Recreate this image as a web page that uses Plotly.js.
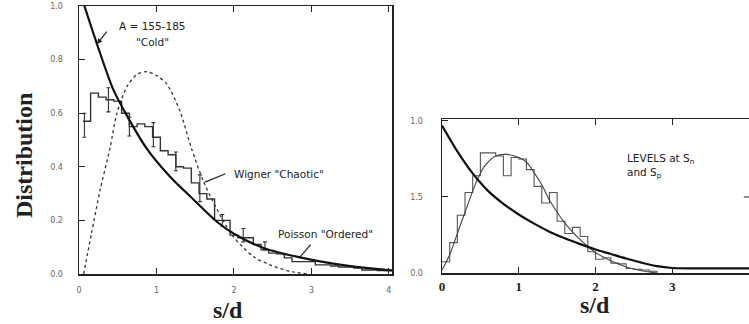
<!DOCTYPE html>
<html>
<head>
<meta charset="utf-8">
<script src="https://cdn.plot.ly/plotly-3.0.1.min.js"></script>
<style>html,body{margin:0;padding:0;background:#fff;}#chart{width:749px;height:324px;}</style>
</head>
<body>
<div id="chart"></div>
<script>
// ---------- Left panel (A = 155-185 "Cold") ----------
const leftBinStart = [0.05,0.15,0.25,0.35,0.45,0.55,0.65,0.75,0.85,0.95,1.05,1.15,1.25,1.35,1.45,1.55,1.65,1.75,1.85,1.95,2.05,2.15,2.25,2.35,2.45,2.55,2.65,2.75,2.85,2.95,3.05,3.15,3.25,3.35,3.45,3.55,3.65,3.75,3.85,3.95];
const leftBinValue = [0.57,0.675,0.66,0.65,0.645,0.60,0.55,0.56,0.55,0.51,0.46,0.445,0.40,0.395,0.34,0.30,0.28,0.20,0.20,0.145,0.135,0.135,0.11,0.09,0.078,0.075,0.06,0.046,0.046,0.046,0.034,0.034,0.03,0.026,0.026,0.022,0.015,0.015,0.013,0.012];
const leftBinEnd = 4.04;
const leftErrS = [0.07,0.38,0.65,0.96,1.25,1.56,1.85,2.12,2.40];
const leftErrV = [0.555,0.65,0.55,0.52,0.42,0.32,0.20,0.145,0.105];
const leftErrD = [0.045,0.045,0.035,0.045,0.035,0.05,0.022,0.025,0.015];
const leftPoissonS = [0.07,0.23,0.44,0.62,0.87,1.17,1.47,1.78,2.0,2.4,2.85,3.3,3.9,4.04];
const leftPoissonV = [1.0,0.86,0.69,0.59,0.47,0.365,0.28,0.195,0.15,0.095,0.062,0.038,0.017,0.014];
const leftWignerS = [0.06,0.16,0.27,0.40,0.49,0.62,0.75,0.88,1.0,1.13,1.30,1.45,1.6,1.73,1.86,1.99,2.25,2.5,2.76,2.98];
const leftWignerV = [0.0,0.15,0.31,0.47,0.60,0.70,0.745,0.755,0.74,0.71,0.61,0.47,0.35,0.27,0.20,0.14,0.065,0.03,0.008,0.0];
const leftXTicks = [0,1,2,3,4];
const leftXTickText = ['0','1','2','3','4'];
const leftYTicks = [0,0.2,0.4,0.6,0.8,1.0];
const leftYTickText = ['0.0','0.2','0.4','0.6','0.8','1.0'];

// ---------- Right panel (LEVELS at Sn and Sp) ----------
const rightBinStart = [0.0,0.1,0.2,0.3,0.4,0.5,0.6,0.7,0.8,0.9,1.0,1.1,1.2,1.3,1.4,1.5,1.6,1.7,1.8,1.9,2.0,2.1,2.2,2.3,2.4,2.5,2.6,2.7];
const rightBinValue = [0.074,0.20,0.38,0.53,0.64,0.79,0.79,0.77,0.64,0.76,0.75,0.68,0.57,0.46,0.53,0.34,0.26,0.30,0.24,0.14,0.09,0.10,0.065,0.06,0.03,0.025,0.02,0.012];
const rightBinEnd = 2.8;
const rightPoissonS = [0.0,0.2,0.4,0.6,0.8,1.0,1.2,1.4,1.6,1.8,2.0,2.2,2.4,2.6,2.8,3.0,3.5,4.0];
const rightPoissonV = [0.97,0.80,0.655,0.54,0.455,0.385,0.325,0.272,0.228,0.19,0.155,0.125,0.095,0.068,0.045,0.033,0.03,0.03];
const rightWignerS = [0.0,0.1,0.2,0.3,0.44,0.55,0.7,0.85,1.0,1.1,1.2,1.3,1.4,1.5,1.6,1.7,1.8,2.0,2.2,2.4,2.6,2.8];
const rightWignerV = [0.02,0.12,0.26,0.40,0.59,0.70,0.77,0.78,0.76,0.73,0.66,0.58,0.48,0.40,0.33,0.27,0.22,0.135,0.08,0.04,0.015,0.0];
const rightXTicks = [0,1,2,3,4];
const rightXTickText = ['0','1','2','3','4'];
const rightYTicks = [0,0.5,1.0];
const rightYTickText = ['0.0','1.5','1.0'];

// ---------- Labels ----------
const yTitle = 'Distribution';
const xTitle = 's/d';
const coldLine1 = 'A = 155-185';
const coldLine2 = '"Cold"';
const wignerLabel = 'Wigner "Chaotic"';
const poissonLabel = 'Poisson "Ordered"';
const levelsLine1 = 'LEVELS at S<sub>n</sub>';
const levelsLine2 = 'and S<sub>p</sub>';

function steps(starts, vals, end, dropToZero) {
  const x = starts.slice(); const y = vals.slice();
  x.push(end); y.push(vals[vals.length - 1]);
  if (dropToZero) { x.push(end); y.push(0); }
  return {x, y};
}
const hl = steps(leftBinStart, leftBinValue, leftBinEnd, false);
const hr = steps(rightBinStart, rightBinValue, rightBinEnd, true);

const ink = '#222';
const traces = [
  {x: hl.x, y: hl.y, xaxis:'x', yaxis:'y', mode:'lines', line:{shape:'hv', color:'#333', width:1.4}, hoverinfo:'skip'},
  {x: leftErrS, y: leftErrV, xaxis:'x', yaxis:'y', mode:'markers', marker:{size:1, color:'rgba(0,0,0,0)'},
   error_y:{type:'data', array:leftErrD, visible:true, color:'#333', thickness:1.1, width:2}, hoverinfo:'skip'},
  {x: leftWignerS, y: leftWignerV, xaxis:'x', yaxis:'y', mode:'lines', line:{shape:'spline', smoothing:0.8, color:'#333', width:1.3, dash:'dot'}, hoverinfo:'skip'},
  {x: leftPoissonS, y: leftPoissonV, xaxis:'x', yaxis:'y', mode:'lines', line:{shape:'spline', smoothing:0.8, color:'#111', width:2.2}, hoverinfo:'skip'},
  {x: hr.x, y: hr.y, xaxis:'x2', yaxis:'y2', mode:'lines', line:{shape:'hv', color:'#555', width:1.1}, hoverinfo:'skip'},
  {x: rightWignerS, y: rightWignerV, xaxis:'x2', yaxis:'y2', mode:'lines', line:{shape:'spline', smoothing:0.8, color:'#444', width:1.1}, hoverinfo:'skip'},
  {x: rightPoissonS, y: rightPoissonV, xaxis:'x2', yaxis:'y2', mode:'lines', line:{shape:'spline', smoothing:0.8, color:'#111', width:2.2}, hoverinfo:'skip'}
];

const tickFont = {family:'DejaVu Sans', size:8, color:'#666'};
const axCommon = {showgrid:false, zeroline:false, showline:true, linecolor:ink, linewidth:1.5,
  ticks:'inside', ticklen:6, tickwidth:1, tickcolor:ink, tickmode:'array', fixedrange:true};

const txtFont = {family:'DejaVu Sans', size:10.5, color:ink};
const serifTitle = {family:'Liberation Serif', size:24, color:ink, weight:'bold'};

const layout = {
  width:749, height:324, margin:{l:0,r:0,t:0,b:0}, showlegend:false,
  paper_bgcolor:'#fff', plot_bgcolor:'rgba(0,0,0,0)',
  xaxis: Object.assign({}, axCommon, {domain:[79/749, 392/749], range:[0,4.04], anchor:'y',
    tickvals:leftXTicks, ticktext:leftXTickText, mirror:'ticks', tickfont:tickFont, ticklabelstandoff:8}),
  yaxis: Object.assign({}, axCommon, {domain:[50/324, 318/324], range:[0,1.0], anchor:'x',
    tickvals:leftYTicks, ticktext:leftYTickText, mirror:true, tickfont:tickFont, ticklabelstandoff:13}),
  xaxis2: Object.assign({}, axCommon, {domain:[442/749, 1], range:[0,4.0], anchor:'y2',
    tickvals:rightXTicks, ticktext:rightXTickText, mirror:'ticks',
    tickfont:{family:'Liberation Serif', size:13, color:ink, weight:'bold'}, ticklabelstandoff:1}),
  yaxis2: Object.assign({}, axCommon, {domain:[51/324, 205/324], range:[0,1.013], anchor:'x2',
    tickvals:rightYTicks, ticktext:rightYTickText, tickfont:tickFont, ticklabelstandoff:16}),
  shapes: [
    {type:'line', xref:'paper', yref:'y2', x0:0.993, x1:1.0, y0:0.5, y1:0.5, line:{color:ink, width:1}}
  ],
  annotations: [
    {xref:'paper', yref:'paper', x:24/749, y:1-156/324, xanchor:'center', yanchor:'middle', text:yTitle, textangle:-90, showarrow:false, font:serifTitle},
    {xref:'paper', yref:'paper', x:228/749, y:1-310/324, xanchor:'center', yanchor:'middle', text:xTitle, showarrow:false, font:serifTitle},
    {xref:'paper', yref:'paper', x:595/749, y:1-305/324, xanchor:'center', yanchor:'middle', text:xTitle, showarrow:false, font:serifTitle},
    {xref:'x', yref:'y', x:0.955, y:0.925, xanchor:'center', yanchor:'middle', text:coldLine1, showarrow:false, font:txtFont},
    {xref:'x', yref:'y', x:0.955, y:0.865, xanchor:'center', yanchor:'middle', text:coldLine2, showarrow:false, font:txtFont},
    {xref:'x', yref:'y', x:2.58, y:0.375, xanchor:'center', yanchor:'middle', text:wignerLabel, showarrow:false, font:txtFont},
    {xref:'x', yref:'y', x:3.18, y:0.15, xanchor:'center', yanchor:'middle', text:poissonLabel, showarrow:false, font:txtFont},
    {xref:'x2', yref:'y2', x:2.39, y:0.75, xanchor:'left', yanchor:'middle', text:levelsLine1, showarrow:false, font:txtFont},
    {xref:'x2', yref:'y2', x:2.39, y:0.66, xanchor:'left', yanchor:'middle', text:levelsLine2, showarrow:false, font:txtFont},
    {xref:'x', yref:'y', x:0.232, y:0.858, text:'', showarrow:true, ax:11, ay:-14, arrowhead:2, arrowsize:0.9, arrowwidth:1.2, arrowcolor:ink, standoff:0, startstandoff:0},
    {xref:'x', yref:'y', x:1.626, y:0.343, text:'', showarrow:true, ax:22, ay:-9, arrowhead:0, arrowwidth:1.2, arrowcolor:ink},
    {xref:'x', yref:'y', x:2.852, y:0.063, text:'', showarrow:true, ax:12, ay:-14, arrowhead:0, arrowwidth:1.2, arrowcolor:ink}
  ]
};

Plotly.newPlot('chart', traces, layout, {staticPlot:true, displayModeBar:false});
</script>
</body>
</html>
